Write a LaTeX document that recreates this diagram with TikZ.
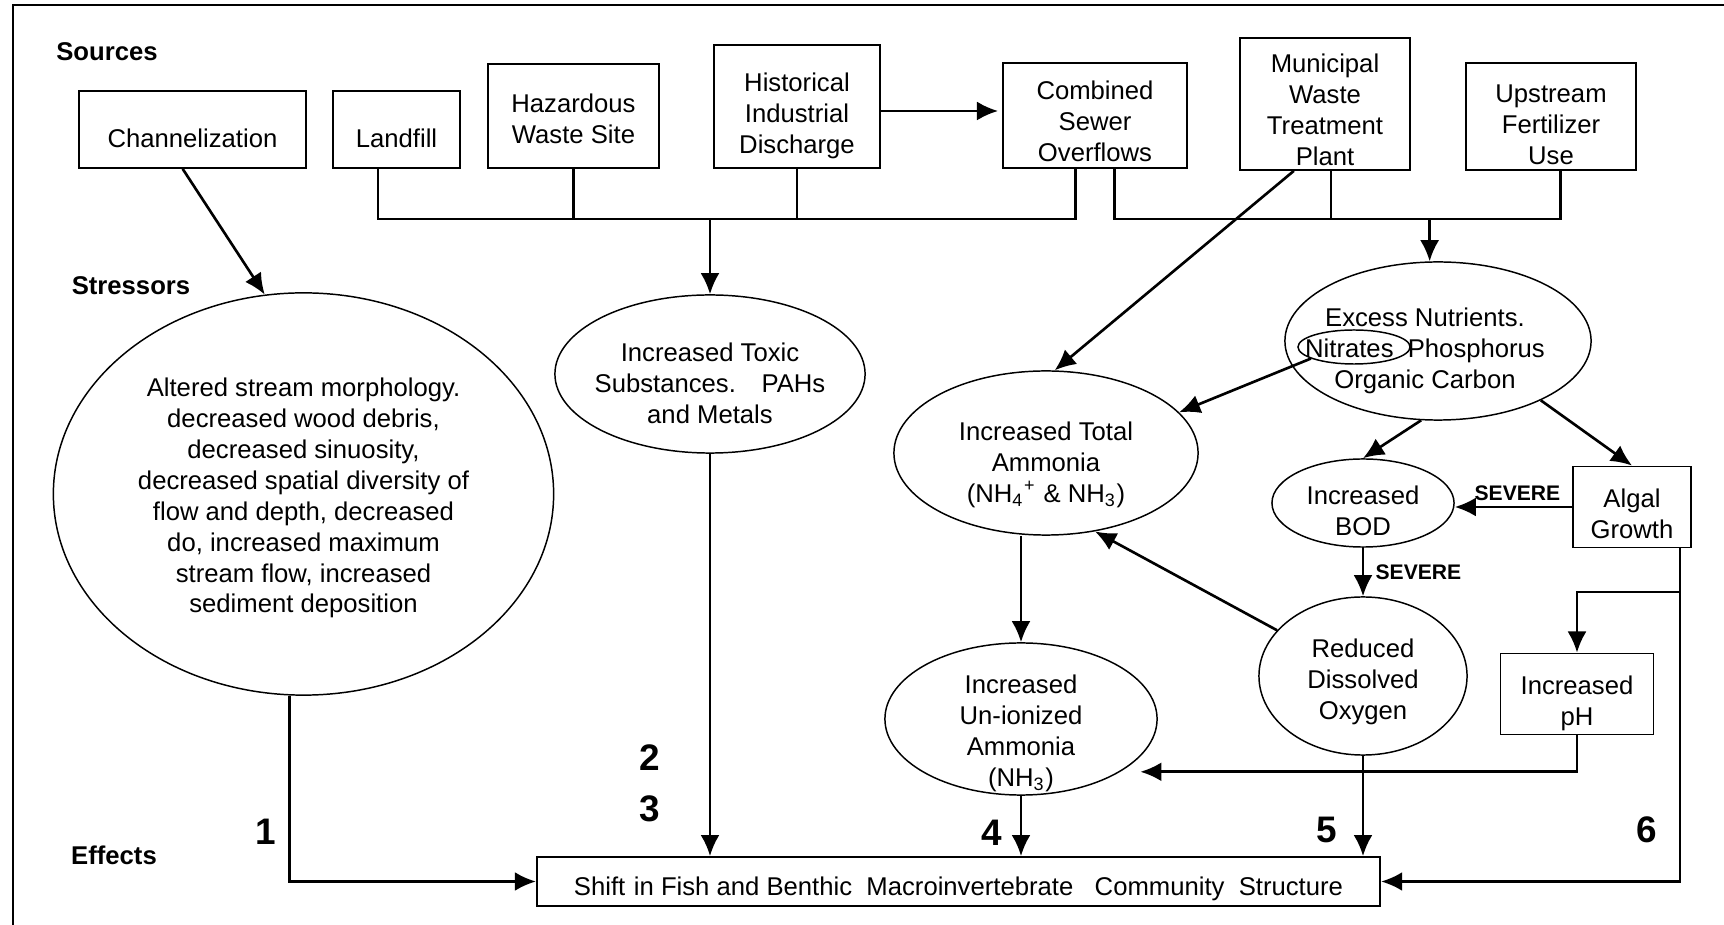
\documentclass[tikz,border=0pt]{standalone}
\usepackage{fontspec}
\setmainfont{Liberation Sans}
\usetikzlibrary{shapes.geometric,arrows.meta,calc}

\begin{document}
\begin{tikzpicture}[
    x = 0.01cm,
    y = -0.01cm,
    txt/.style={
        font = \fontsize{7.3}{8.8}\selectfont,
        align = center,
        inner sep = 0pt
    },
    src/.style={
        draw,
        rectangle,
        inner sep = 0pt,
        line width = 0.5pt
    },
    blob/.style={
        draw,
        ellipse,
        inner sep = 0pt,
        line width = 0.42pt
    },
    head/.style={
        font = \fontsize{7.3}{8.8}\selectfont\bfseries,
        inner sep = 0pt
    },
    num/.style={
        font = \fontsize{10.5}{12}\selectfont\bfseries,
        inner sep = 0pt
    },
    sev/.style={
        font = \fontsize{6}{7}\selectfont\bfseries,
        inner sep = 1.5pt
    },
    link/.style={line width = 0.75pt},
    >={Latex[length=6pt,width=5.4pt]}
    ]

\useasboundingbox (0,0) rectangle (1724,925);
\draw[line width=0.75pt] (13,5) rectangle (1760,960);

% row labels
\node[head] (lsrc) at (107,52) {Sources};
\node[head] (lstr) at (131,286) {Stressors};
\node[head] (leff) at (114,855) {Effects};

% sources
\node[src, minimum width=2.27cm, minimum height=0.77cm,
    label={[txt, yshift=-0.09cm]center:Channelization}] (chan) at (192.5,129.5) {};
\node[src, minimum width=1.27cm, minimum height=0.77cm,
    label={[txt, yshift=-0.09cm]center:Landfill}] (land) at (396.5,129.5) {};
\node[src, minimum width=1.71cm, minimum height=1.04cm,
    label={[txt, yshift=-0.03cm]center:{Hazardous\\Waste Site}}] (haz) at (573.5,116) {};
\node[src, minimum width=1.66cm, minimum height=1.23cm,
    label={[txt, yshift=-0.09cm]center:{Historical\\Industrial\\Discharge}}] (hist) at (797,106.5) {};
\node[src, minimum width=1.84cm, minimum height=1.05cm,
    label={[txt, yshift=-0.06cm]center:{Combined\\Sewer\\Overflows}}] (comb) at (1095,115.5) {};
\node[src, minimum width=1.70cm, minimum height=1.32cm,
    label={[txt, yshift=-0.06cm]center:{Municipal\\Waste\\Treatment\\Plant}}] (muni) at (1325,104) {};
\node[src, minimum width=1.70cm, minimum height=1.07cm,
    label={[txt, yshift=-0.08cm]center:{Upstream\\Fertilizer\\Use}}] (ups) at (1551,116.5) {};

% stressors
\node[blob, minimum width=5.00cm, minimum height=4.02cm,
    label={[txt, yshift=-0.04cm]center:{Altered stream morphology.\\decreased wood debris,\\decreased sinuosity,\\decreased spatial diversity of\\flow and depth, decreased\\do, increased maximum\\stream flow, increased\\sediment deposition}}] (alt) at (303.5,494) {};
\node[blob, minimum width=3.10cm, minimum height=1.58cm,
    label={[txt, yshift=-0.09cm]center:{Increased Toxic\\Substances.\quad PAHs\\and Metals}}] (tox) at (710,374) {};
\node[blob, minimum width=3.06cm, minimum height=1.58cm,
    label={[txt, xshift=-0.13cm, yshift=-0.10cm]center:{Excess Nutrients.\\Nitrates\ \ Phosphorus\\Organic Carbon}}] (exc) at (1438,341) {};
\node[blob, minimum width=1.12cm, minimum height=0.34cm] (nit) at (1354,347) {};
\node[blob, minimum width=3.04cm, minimum height=1.64cm,
    label={[txt, yshift=-0.12cm]center:{Increased Total\\Ammonia\\(NH\textsubscript{4}\textsuperscript{+} \& NH\textsubscript{3})}}] (amm) at (1046,453) {};
\node[blob, minimum width=1.82cm, minimum height=0.88cm,
    label={[txt, yshift=-0.08cm]center:{Increased\\BOD}}] (bod) at (1363,503) {};
\node[src, minimum width=1.18cm, minimum height=0.81cm,
    label={[txt, yshift=-0.07cm]center:{Algal\\Growth}}] (alg) at (1632,507) {};
\node[blob, minimum width=2.08cm, minimum height=1.58cm,
    label={[txt, yshift=-0.06cm]center:{Reduced\\Dissolved\\Oxygen}}] (dox) at (1363,676) {};
\node[blob, minimum width=2.72cm, minimum height=1.52cm,
    label={[txt, yshift=-0.14cm]center:{Increased\\Un-ionized\\Ammonia\\(NH\textsubscript{3})}}] (uni) at (1021,719) {};
\node[src, minimum width=1.53cm, minimum height=0.81cm,
    label={[txt, yshift=-0.09cm]center:{Increased\\pH}}] (ph) at (1577,694) {};

% effects
\node[src, minimum width=8.43cm, minimum height=0.49cm,
    label={[txt, yshift=-0.07cm]center:{Shift\,\,in Fish and Benthic\ \ Macroinvertebrate\ \ \ Community\ \ Structure}}] (shift) at (958.5,881.5) {};

\node[num] (n1) at (266,832) {1};
\node[num] (n2) at (650,758) {2};
\node[num] (n3) at (650,809) {3};
\node[num] (n4) at (992,833) {4};
\node[num] (n5) at (1327,830) {5};
\node[num] (n6) at (1647,830) {6};

% sources to stressors
\coordinate (bus) at (0,219);
\draw[link,->] (chan.256) -- (alt.101);
\draw[link,->] ($(hist.east)+(0,4.5)$) -- ($(hist.east -| comb.west)+(-4,4.5)$);
\draw[link] (land.245) |- (bus -| comb.250) -- (comb.250);
\draw[link] (haz.south) -- (haz.south |- bus);
\draw[link] (hist.south) -- (hist.south |- bus);
\draw[link,->] (tox.north |- bus) -- (tox.north);
\draw[link] (comb.290) |- (bus -| ups.280) -- (ups.280);
\draw[link] (muni.275) -- (muni.275 |- bus);
\draw[link,->] (exc.96 |- bus) -- (exc.96);
\draw[link,->] (muni.245) -- (amm.84);

% between stressors
\draw[link,->] (nit.195) -- (amm.17);
\draw[link,->] (exc.258) -- (bod.north);
\draw[link,->] (exc.-30) -- (alg.north);
\draw[link,->] (alg.west) -- node[sev, above, xshift=0.04cm] {SEVERE} (alg.west -| bod.east);
\draw[link,->] (bod.south) -- node[sev, right, xshift=0.06cm] {SEVERE} (dox.north);
\draw[link,->] (dox.152) -- (amm.-58);
\draw[link,->] (uni.north |- amm.south) -- (uni.north);
\coordinate (agx) at ($(alg.south east)+(-12,0)$);
\coordinate (brk) at (0,592);
\draw[link,->] (agx |- brk) -| (ph.north);
\draw[link,->, shorten >=0.2cm] (ph.south) |- (uni.-28);

% to effects
\draw[link,->] (alt.266) |- (shift.west);
\draw[link,->] (tox.south) -- (tox.south |- shift.north);
\draw[link,->] (uni.south) -- (uni.south |- shift.north);
\draw[link,->] (dox.south) -- (dox.south |- shift.north);
\draw[link,->] (agx) |- (shift.east);
\end{tikzpicture}
\end{document}
